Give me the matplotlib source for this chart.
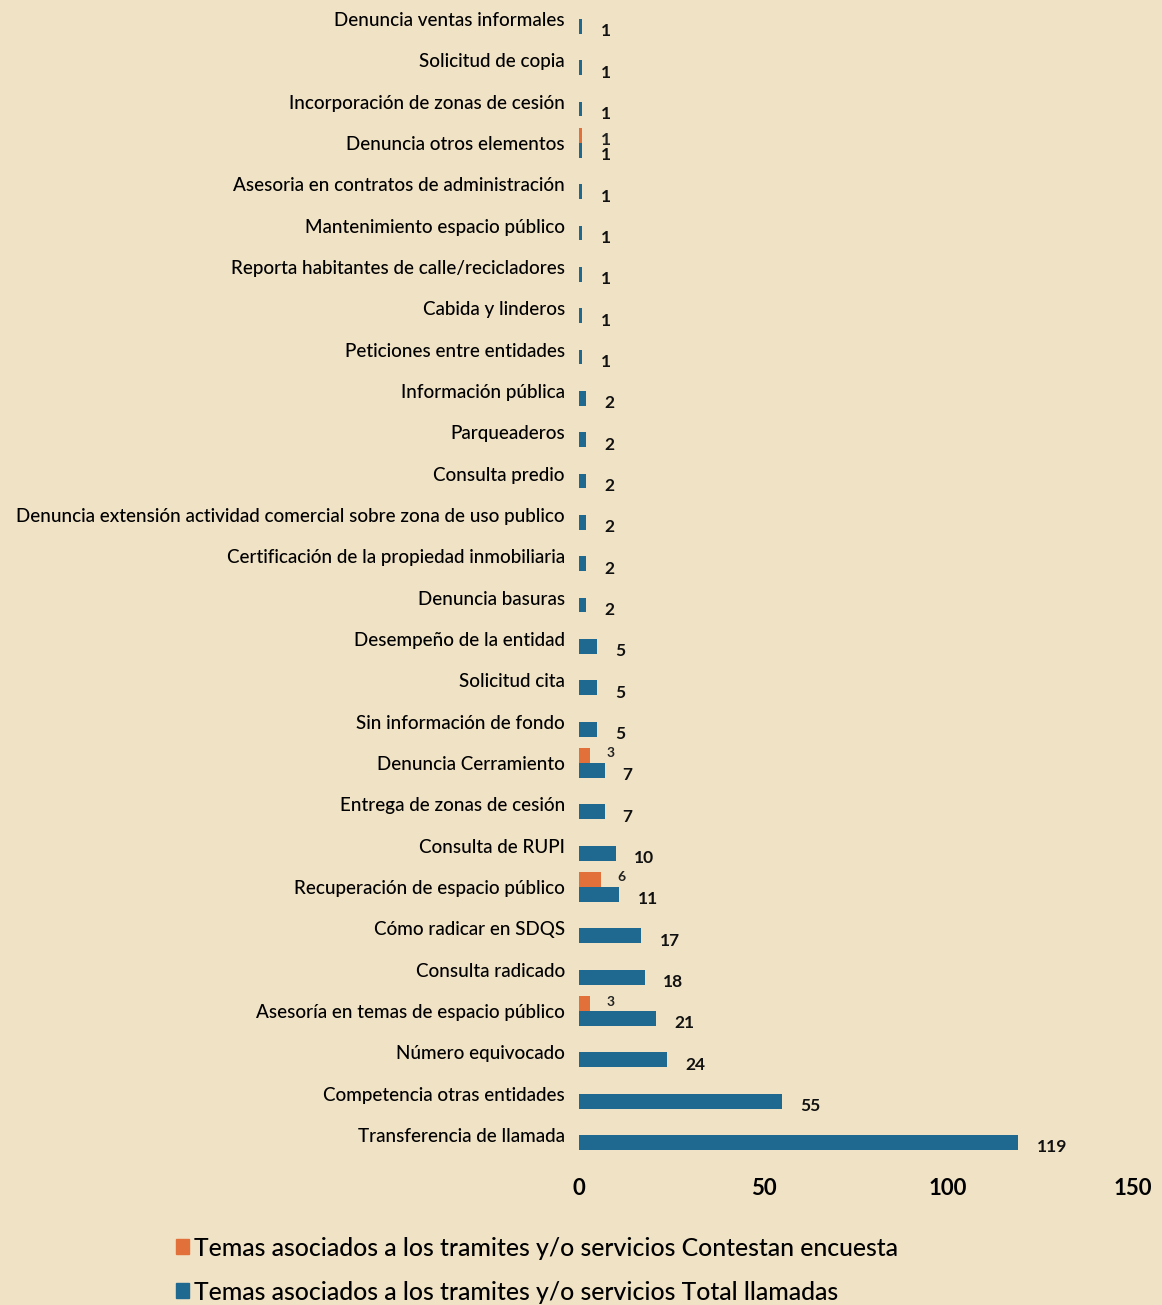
import matplotlib
matplotlib.use("Agg")
import matplotlib.pyplot as plt
from matplotlib.patches import Patch
import numpy as np

# data, top to bottom as in the chart
temas = [
    "Denuncia ventas informales",
    "Solicitud de copia",
    "Incorporación de zonas de cesión",
    "Denuncia otros elementos",
    "Asesoria en contratos de administración",
    "Mantenimiento espacio público",
    "Reporta habitantes de calle/recicladores",
    "Cabida y linderos",
    "Peticiones entre entidades",
    "Información pública",
    "Parqueaderos",
    "Consulta predio",
    "Denuncia extensión actividad comercial sobre zona de uso publico",
    "Certificación de la propiedad inmobiliaria",
    "Denuncia basuras",
    "Desempeño de la entidad",
    "Solicitud cita",
    "Sin información de fondo",
    "Denuncia Cerramiento",
    "Entrega de zonas de cesión",
    "Consulta de RUPI",
    "Recuperación de espacio público",
    "Cómo radicar en SDQS",
    "Consulta radicado",
    "Asesoría en temas de espacio público",
    "Número equivocado",
    "Competencia otras entidades",
    "Transferencia de llamada",
]
total_llamadas = [1, 1, 1, 1, 1, 1, 1, 1, 1, 2, 2, 2, 2, 2, 2, 5, 5, 5, 7, 7,
                  10, 11, 17, 18, 21, 24, 55, 119]
# only a few topics have survey answers
contestan = {"Denuncia otros elementos": 1, "Denuncia Cerramiento": 3,
             "Recuperación de espacio público": 6,
             "Asesoría en temas de espacio público": 3}

ley_encuesta = "Temas asociados a los tramites y/o servicios Contestan encuesta"
ley_total = "Temas asociados a los tramites y/o servicios Total llamadas"

bg = "#f0e2c5"
azul = "#1f6890"
naranja = "#e2703b"

plt.rcParams["font.family"] = ["Lato", "DejaVu Sans"]

fig = plt.figure(figsize=(11.62, 13.05), dpi=100, facecolor=bg)
ax = fig.add_axes([0.498, 0.1144, 0.477, 0.887], facecolor=bg)

y = np.arange(len(temas))
h = 0.36
ax.barh(y + h / 2, total_llamadas, height=h, color=azul)
for v, t in zip(total_llamadas, y):
    ax.text(v + 4.9, t + h / 2 + 0.12, str(v), va="center", ha="left",
            fontsize=12.5, fontweight="bold", color="#111111")

enc_y = [temas.index(k) for k in contestan]
enc_v = list(contestan.values())
ax.barh(np.array(enc_y) - h / 2, enc_v, height=h, color=naranja)
for v, t in zip(enc_v, enc_y):
    fs = 12.5 if v == 1 else 10
    dy = -h / 2 + 0.1 if v == 1 else -h / 2 - 0.05
    ax.text(v + 4.9 if v == 1 else v + 4.6, t + dy, str(v), va="center",
            ha="left", fontsize=fs, fontweight="bold", color="#222222")

ax.set_ylim(len(temas) - 0.5, -0.5)
ax.set_xlim(0, 150)
ax.set_yticks(y)
ax.set_yticklabels(temas, fontsize=13.6, fontweight="medium")
ax.set_xticks([0, 50, 100, 150])
ax.tick_params(axis="both", length=0)
ax.tick_params(axis="y", pad=10)
ax.tick_params(axis="x", pad=16, labelsize=16)
for lab in ax.get_xticklabels():
    lab.set_fontweight("bold")
for s in ax.spines.values():
    s.set_visible(False)

handles = [Patch(color=naranja), Patch(color=azul)]
fig.legend(handles, [ley_encuesta, ley_total], loc="lower left",
           bbox_to_anchor=(0.132, -0.016), frameon=False,
           prop={"size": 17.8, "weight": "medium"},
           handlelength=0.55, handleheight=0.55, handletextpad=0.2,
           labelspacing=0.85)

fig.savefig("out.png", dpi=100, facecolor=bg)
